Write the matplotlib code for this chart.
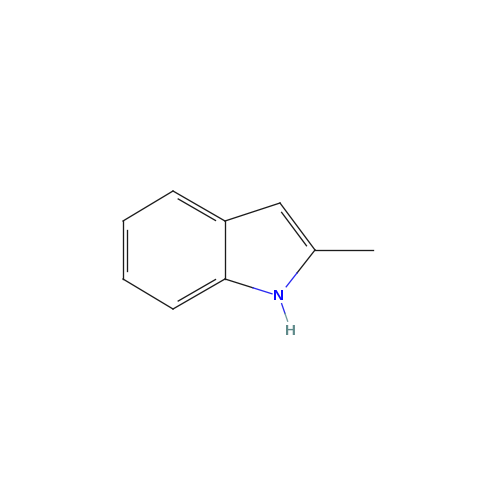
import matplotlib
matplotlib.use("Agg")
import matplotlib.pyplot as plt
import numpy as np

# atom positions (pixels, y down)
atom_names = ["C3a", "C4", "C5", "C6", "C7", "C7a", "N1", "C2", "C3", "CH3", "H"]
atom_x = [225, 173, 123, 123, 173, 225, 279, 315, 280, 373, 291]
atom_y = [221, 191, 221, 279, 309, 279, 296, 250, 203, 250, 331]

plain_bonds = [(0, 1), (1, 2), (2, 3), (3, 4), (4, 5), (5, 0), (0, 8), (8, 7), (7, 9)]
# inner second line of the double bonds, with the ring they lean into
double_bonds = [(0, 1, (0, 1, 2, 3, 4, 5)), (2, 3, (0, 1, 2, 3, 4, 5)),
                (4, 5, (0, 1, 2, 3, 4, 5)), (8, 7, (0, 5, 6, 7, 8))]
# bonds to a hetero atom: start atom, end atom, fraction where colour changes, where line stops
hetero_bonds = [(5, 6, 0.52, 0.87), (7, 6, 0.50, 0.80)]

BLACK = "#1c1c1c"
BLUE = "#2a2af0"
LW = 0.95


def pos(i):
    return np.array([atom_x[i], atom_y[i]], dtype=float)


def inner_line(a, b, ring):
    p, q = pos(a), pos(b)
    centre = np.mean([pos(i) for i in ring], axis=0)
    d = (q - p) / np.linalg.norm(q - p)
    n = np.array([-d[1], d[0]])
    if np.dot(centre - p, n) < 0:
        n = -n
    return p + 8.5 * d + 4.3 * n, q - 8.5 * d + 4.3 * n


fig = plt.figure(figsize=(5, 5), dpi=100)
ax = fig.add_axes([0, 0, 1, 1])
ax.set_xlim(0, 500)
ax.set_ylim(500, 0)
ax.axis("off")

for a, b in plain_bonds:
    ax.plot([atom_x[a], atom_x[b]], [atom_y[a], atom_y[b]], color=BLACK, lw=LW)

for a, b, ring in double_bonds:
    s, e = inner_line(a, b, ring)
    ax.plot([s[0], e[0]], [s[1], e[1]], color=BLACK, lw=LW)

for a, b, mid, stop in hetero_bonds:
    p, q = pos(a), pos(b)
    m = p + mid * (q - p)
    e = p + stop * (q - p)
    ax.plot([p[0], m[0]], [p[1], m[1]], color=BLACK, lw=LW)
    ax.plot([m[0], e[0]], [m[1], e[1]], color=BLUE, lw=LW)

# N-H bond fades from blue to grey
n_pos, h_pos = pos(6), pos(10)
ax.plot(*zip(n_pos + 0.22 * (h_pos - n_pos), n_pos + 0.5 * (h_pos - n_pos)), color=BLUE, lw=LW)
ax.plot(*zip(n_pos + 0.5 * (h_pos - n_pos), n_pos + 0.72 * (h_pos - n_pos)), color="#6f9a9a", lw=LW)

ax.text(atom_x[6], atom_y[6], "N", color="#0c0cff", fontsize=11, fontweight="bold",
        family="Liberation Sans", ha="center", va="center")
ax.text(atom_x[10], atom_y[10], "H", color="#5f8a8a", fontsize=11, fontweight="bold",
        family="Liberation Sans", ha="center", va="center")

fig.savefig("out.png", dpi=100)
